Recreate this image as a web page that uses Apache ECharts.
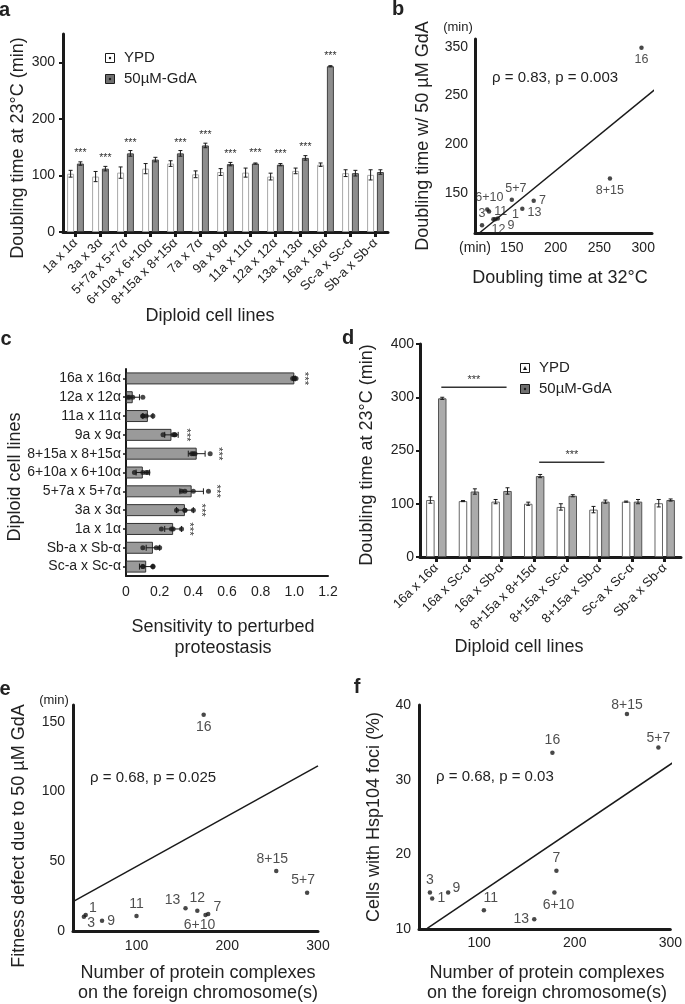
<!DOCTYPE html>
<html>
<head>
<meta charset="utf-8">
<script src="https://cdn.jsdelivr.net/npm/echarts@6.0.0/dist/echarts.min.js"></script>
<style>
html,body{margin:0;padding:0;background:#fff;}
#chart{width:685px;height:1004px;}
</style>
</head>
<body>
<div id="chart"></div>
<script>
// ---------------- Panel a ----------------
const aCategories = ['1a x 1α','3a x 3α','5+7a x 5+7α','6+10a x 6+10α','8+15a x 8+15α','7a x 7α','9a x 9α','11a x 11α','12a x 12α','13a x 13α','16a x 16α','Sc-a x Sc-α','Sb-a x Sb-α'];
const aYPD    = [103, 98, 105, 112, 121, 102, 106, 105, 98, 108, 119, 104, 101];
const aYPDErr = [6, 9, 10, 9, 5, 6, 6, 8, 6, 5, 3, 6, 9];
const aGdA    = [121, 112, 139, 128, 139, 153, 120, 121, 119, 131, 293, 104, 106];
const aGdAErr = [3, 4, 5, 4, 5, 4, 3, 1, 2, 4, 1, 5, 4];
const aSig    = ['***','***','***','','***','***','***','***','***','***','***','',''];
const aYTicks = [0, 100, 200, 300];

// ---------------- Panel b ----------------
const bLabels = ['16','8+15','7','5+7','13','1','9','12','11','6+10','3'];
const bX = [298, 262, 175, 150, 162, 134, 131, 129, 124, 122, 116];
const bY = [299, 165, 142, 143, 134, 124, 123, 123, 131, 133, 117];
const bFit = [[113, 109], [313, 256]];
const bXTicks = [150, 200, 250, 300];
const bYTicks = [150, 200, 250, 300];
const bYTickLabels = ['150', '200', '250', '350'];
const bStat = 'ρ = 0.83, p = 0.003';

// ---------------- Panel c ----------------
const cCategories = ['16a x 16α','12a x 12α','11a x 11α','9a x 9α','8+15a x 8+15α','6+10a x 6+10α','5+7a x 5+7α','3a x 3α','1a x 1α','Sb-a x Sb-α','Sc-a x Sc-α'];
const cValues = [1.0, 0.04, 0.13, 0.27, 0.42, 0.10, 0.39, 0.35, 0.28, 0.16, 0.12];
const cErr    = [0.005, 0.04, 0.03, 0.04, 0.05, 0.04, 0.07, 0.05, 0.05, 0.04, 0.04];
const cDots   = [[0.99,1.0,1.0,1.01],[0.01,0.02,0.04,0.10],[0.10,0.10,0.12,0.16],[0.22,0.28,0.29,0.29],[0.39,0.40,0.41,0.50],[0.05,0.10,0.12,0.13],[0.33,0.35,0.40,0.49],[0.30,0.35,0.35,0.40],[0.21,0.27,0.28,0.33],[0.10,0.18,0.20],[0.10,0.10,0.16,0.16]];
const cSig    = ['***','','','***','***','','***','***','***','',''];
const cXTicks = [0, 0.2, 0.4, 0.6, 0.8, 1.0, 1.2];
const cXTickLabels = ['0','0.2','0.4','0.6','0.8','1.0','1.2'];

// ---------------- Panel d ----------------
const dCategories = ['16a x 16α','16a x Sc-α','16a x Sb-α','8+15a x 8+15α','8+15a x Sc-α','8+15a x Sb-α','Sc-a x Sc-α','Sb-a x Sb-α'];
const dYPD    = [107, 105, 104, 100, 94, 89, 104, 101];
const dYPDErr = [6, 1, 4, 3, 6, 6, 1, 7];
const dGdA    = [298, 123, 124, 152, 115, 104, 104, 107];
const dGdAErr = [2, 5, 6, 3, 2, 3, 4, 2];
const dSigLines = [[0, 2, 319], [3, 5, 178]];
const dYTicks = [0, 100, 200, 300, 400];
const dYTickLabels = ['0', '100', '250', '300', '400'];

// ---------------- Panel e ----------------
const eLabels = ['16','8+15','5+7','13','12','7','6+10','11','9','1','3'];
const eX = [174, 254, 288, 154, 167, 179, 176, 100, 62, 44, 42];
const eY = [155, 43, 27.5, 16.3, 14.6, 12.2, 11.5, 10.8, 7.4, 11.5, 10.3];
const eFit = [[30, 21], [300, 118.3]];
const eXTicks = [100, 200, 300];
const eYTicks = [0, 50, 100, 150];
const eStat = 'ρ = 0.68, p = 0.025';

// ---------------- Panel f ----------------
const fLabels = ['8+15','5+7','16','7','6+10','13','11','9','3','1'];
const fX = [254.6, 287.5, 176.6, 180.8, 178.7, 157.6, 104.9, 67.5, 48.4, 50.8];
const fY = [38.8, 34.3, 33.6, 17.8, 14.9, 11.3, 12.5, 14.9, 14.9, 14.1];
const fFit = [[45.6, 10.1], [307.6, 32.7]];
const fXTicks = [100, 200, 300];
const fYTicks = [10, 20, 30, 40];
const fStat = 'ρ = 0.68, p = 0.03';

// ---------------- styling / layout ----------------
const FONT = '"Liberation Sans", Arial, Helvetica, sans-serif';
const INK = '#1a1a1a';
const TXT = '#222';

const bLabelPlace = [['bottom',0,0],['bottom',0,0],['right',0,0],['top',4,0],['right',0,4],['right',9,-4],['right',7,6],['bottom',5,-2],['right',0,0],['top',2,0],['top',0,0]];
const eLabelPlace = [['bottom',0,0],['top',-4,0],['top',-4,0],['left',0,-8],['top',0,0],['right',0,-7],['bottom',-6,-2],['top',0,0],['right',0,0],['right',-2,-7],['right',-2,7]];
const fLabelPlace = [['top',0,3],['top',0,3],['top',0,0],['top',0,0],['bottom',4,0],['left',0,0],['top',7,0],['right',-1,-4],['top',0,0],['right',0,0]];

function axisLine(w){ return {show:true, onZero:false, lineStyle:{color:INK, width:w}}; }

function vErr(xi, yi, vals, errs, off){
  return {type:'custom', xAxisIndex:xi, yAxisIndex:yi, silent:true, z:4, animation:false,
    data: vals.map((v,i)=>[i, v, errs[i]]),
    encode:{x:0, y:1},
    renderItem(params, api){
      const i = api.value(0), v = api.value(1), e = api.value(2);
      const lo = api.coord([i, v - e]), hi = api.coord([i, v + e]);
      const x = lo[0] + off, c = 2;
      const st = {stroke:INK, lineWidth:1};
      return {type:'group', children:[
        {type:'line', shape:{x1:x, y1:lo[1], x2:x, y2:hi[1]}, style:st},
        {type:'line', shape:{x1:x-c, y1:lo[1], x2:x+c, y2:lo[1]}, style:st},
        {type:'line', shape:{x1:x-c, y1:hi[1], x2:x+c, y2:hi[1]}, style:st}
      ]};
    }};
}

function hErr(xi, yi, vals, errs){
  return {type:'custom', xAxisIndex:xi, yAxisIndex:yi, silent:true, z:4, animation:false,
    data: vals.map((v,i)=>[i, v, errs[i]]),
    encode:{x:1, y:0},
    renderItem(params, api){
      const i = api.value(0), v = api.value(1), e = api.value(2);
      const lo = api.coord([v - e, i]), hi = api.coord([v + e, i]);
      const y = lo[1], c = 3;
      const st = {stroke:INK, lineWidth:1};
      return {type:'group', children:[
        {type:'line', shape:{x1:lo[0], y1:y, x2:hi[0], y2:y}, style:st},
        {type:'line', shape:{x1:lo[0], y1:y-c, x2:lo[0], y2:y+c}, style:st},
        {type:'line', shape:{x1:hi[0], y1:y-c, x2:hi[0], y2:y+c}, style:st}
      ]};
    }};
}

function scatterItems(xs, ys, labels, place){
  return xs.map((x,i)=>({value:[x, ys[i]], name:labels[i],
    label:{position:place[i][0], offset:[place[i][1], place[i][2]]}}));
}

function scatterSeries(xi, yi, xs, ys, labels, place, fs){
  return {type:'scatter', xAxisIndex:xi, yAxisIndex:yi, symbolSize:4.5, silent:true,
    itemStyle:{color:INK}, data:scatterItems(xs, ys, labels, place),
    label:{show:true, formatter:'{b}', fontSize:fs, color:TXT, fontFamily:FONT, distance:3}};
}

function fitSeries(xi, yi, pts){
  return {type:'line', xAxisIndex:xi, yAxisIndex:yi, data:pts, symbol:'none', clip:false, silent:true,
    lineStyle:{color:INK, width:1.5}, z:1};
}

const txt = (text, x, y, o={}) => ({type:'text', x, y, rotation:o.rot||0, silent:true, z:100,
  style:{text, fill:TXT, fontSize:o.size||18, fontWeight:o.bold?'bold':'normal', fontFamily:FONT,
    align:o.align||'center', verticalAlign:'middle'}});
const R90 = Math.PI/2;

const cDotPts = [];
cDots.forEach((arr,i)=>arr.forEach(v=>cDotPts.push([v, i])));

const option = {
  animation:false,
  backgroundColor:'#fff',
  textStyle:{fontFamily:FONT},
  grid:[
    {left:63,  top:34,  width:325, height:198},
    {left:475, top:39,  width:177, height:194},
    {left:126, top:369, width:202, height:207},
    {left:420, top:344, width:261, height:213},
    {left:73,  top:705, width:245, height:226},
    {left:419, top:705, width:253, height:224}
  ],
  xAxis:[
    {gridIndex:0, type:'category', data:aCategories, axisLine:axisLine(3),
     axisTick:{show:true, alignWithLabel:true, length:5, lineStyle:{color:INK, width:3}},
     axisLabel:{interval:0, rotate:45, fontSize:13, color:TXT, margin:9}},
    {gridIndex:1, type:'value', min:108, max:310, axisLine:axisLine(3), axisTick:{show:false}, splitLine:{show:false},
     axisLabel:{customValues:[108].concat(bXTicks), formatter:v=> v===108 ? '(min)' : String(v), fontSize:14, color:TXT, margin:8}},
    {gridIndex:2, type:'value', min:0, max:1.2, axisLine:axisLine(2), axisTick:{show:false}, splitLine:{show:false},
     axisLabel:{customValues:cXTicks, formatter:v=> cXTickLabels[cXTicks.findIndex(t=>Math.abs(t-v)<1e-6)], fontSize:14, color:TXT, margin:9}},
    {gridIndex:3, type:'category', data:dCategories, axisLine:axisLine(3),
     axisTick:{show:true, alignWithLabel:true, length:5, lineStyle:{color:INK, width:3}},
     axisLabel:{interval:0, rotate:45, fontSize:13, color:TXT, margin:9}},
    {gridIndex:4, type:'value', min:30, max:300, axisLine:axisLine(3), axisTick:{show:false}, splitLine:{show:false},
     axisLabel:{customValues:eXTicks, fontSize:14, color:TXT, margin:8}},
    {gridIndex:5, type:'value', min:37, max:300, axisLine:axisLine(3), axisTick:{show:false}, splitLine:{show:false},
     axisLabel:{customValues:fXTicks, fontSize:14, color:TXT, margin:7}}
  ],
  yAxis:[
    {gridIndex:0, type:'value', min:0, max:350, axisLine:axisLine(3), splitLine:{show:false},
     axisTick:{show:true, customValues:aYTicks, length:4, lineStyle:{color:INK, width:2}},
     axisLabel:{customValues:aYTicks, fontSize:14, color:TXT, margin:8}},
    {gridIndex:1, type:'value', min:109, max:308, axisLine:axisLine(3), splitLine:{show:false}, axisTick:{show:false},
     axisLabel:{customValues:bYTicks, formatter:v=> bYTickLabels[bYTicks.indexOf(v)], fontSize:14, color:TXT, margin:7}},
    {gridIndex:2, type:'category', data:cCategories, inverse:true, axisLine:axisLine(2),
     axisTick:{show:true, alignWithLabel:true, length:3, lineStyle:{color:INK, width:1.5}},
     axisLabel:{interval:0, fontSize:14, color:TXT, margin:5}},
    {gridIndex:3, type:'value', min:0, max:400, interval:100, axisLine:axisLine(3), splitLine:{show:false},
     axisTick:{show:true, length:4, lineStyle:{color:INK, width:2}},
     axisLabel:{formatter:v=> dYTickLabels[dYTicks.indexOf(v)], fontSize:14, color:TXT, margin:6}},
    {gridIndex:4, type:'value', min:0, max:162, axisLine:axisLine(3), splitLine:{show:false}, axisTick:{show:false},
     axisLabel:{customValues:eYTicks, fontSize:14, color:TXT, margin:8}},
    {gridIndex:5, type:'value', min:10, max:40, axisLine:axisLine(3), splitLine:{show:false}, axisTick:{show:false},
     axisLabel:{customValues:fYTicks, fontSize:14, color:TXT, margin:8}}
  ],
  series:[
    // a
    {type:'bar', name:'YPD', xAxisIndex:0, yAxisIndex:0, data:aYPD, barWidth:7, barGap:'40%',
     itemStyle:{color:'#ffffff', borderColor:'#a8a8a8', borderWidth:1}},
    {type:'bar', name:'50µM-GdA', xAxisIndex:0, yAxisIndex:0, data:aGdA, barWidth:7, barGap:'40%',
     itemStyle:{color:'#8d8d8d', borderColor:'#404040', borderWidth:1},
     label:{show:true, position:'top', distance:5, formatter:p=>aSig[p.dataIndex], fontSize:10.5, color:'#333'}},
    vErr(0, 0, aYPD, aYPDErr, -4.9),
    vErr(0, 0, aGdA, aGdAErr, 4.9),
    // b
    fitSeries(1, 1, bFit),
    scatterSeries(1, 1, bX, bY, bLabels, bLabelPlace, 12.5),
    // c
    {type:'bar', name:'Sensitivity', xAxisIndex:2, yAxisIndex:2, data:cValues, barWidth:12,
     itemStyle:{color:'#9a9a9a', borderColor:'#333', borderWidth:1}},
    hErr(2, 2, cValues, cErr),
    {type:'scatter', xAxisIndex:2, yAxisIndex:2, data:cDotPts, symbolSize:5, itemStyle:{color:INK}, silent:true, z:5},
    {type:'custom', xAxisIndex:2, yAxisIndex:2, silent:true, z:6,
     data:cValues.map((v,i)=>[i, Math.max(v + cErr[i], ...cDots[i])]),
     encode:{x:1, y:0},
     renderItem(params, api){
       const i = params.dataIndex;
       if(!cSig[i]) return null;
       const p = api.coord([api.value(1), api.value(0)]);
       return {type:'text', x:p[0]+8, y:p[1], rotation:-R90,
         style:{text:cSig[i], fontSize:11.5, fill:'#333', fontFamily:FONT, align:'center', verticalAlign:'middle'}};
     }},
    // d
    {type:'bar', name:'YPD', xAxisIndex:3, yAxisIndex:3, data:dYPD, barWidth:8.5, barGap:'40%',
     itemStyle:{color:'#ffffff', borderColor:'#666', borderWidth:1}},
    {type:'bar', name:'50µM-GdA', xAxisIndex:3, yAxisIndex:3, data:dGdA, barWidth:8.5, barGap:'40%',
     itemStyle:{color:'#ababab', borderColor:'#555', borderWidth:1}},
    vErr(3, 3, dYPD, dYPDErr, -5.95),
    vErr(3, 3, dGdA, dGdAErr, 5.95),
    {type:'custom', xAxisIndex:3, yAxisIndex:3, silent:true, z:6,
     data:dSigLines, encode:{x:[0,1], y:2},
     renderItem(params, api){
       const p1 = api.coord([api.value(0), api.value(2)]);
       const p2 = api.coord([api.value(1), api.value(2)]);
       const x1 = p1[0] + 5, x2 = p2[0] + 5, y = p1[1];
       return {type:'group', children:[
         {type:'line', shape:{x1, y1:y, x2, y2:y}, style:{stroke:'#333', lineWidth:1.5}},
         {type:'text', x:(x1+x2)/2, y:y-7, style:{text:'***', fontSize:11, fill:'#333', fontFamily:FONT, align:'center', verticalAlign:'middle'}}
       ]};
     }},
    // e
    fitSeries(4, 4, eFit),
    scatterSeries(4, 4, eX, eY, eLabels, eLabelPlace, 14),
    // f
    fitSeries(5, 5, fFit),
    scatterSeries(5, 5, fX, fY, fLabels, fLabelPlace, 14)
  ],
  graphic:[
    // panel letters
    txt('a', 4.5, 10, {bold:1, size:20}),
    txt('b', 398, 9, {bold:1, size:20}),
    txt('c', 6, 339, {bold:1, size:20}),
    txt('d', 348, 338, {bold:1, size:20}),
    txt('e', 5, 689, {bold:1, size:20}),
    txt('f', 357, 687, {bold:1, size:20}),
    // axis titles
    txt('Doubling time at 23°C (min)', 18, 148, {rot:R90}),
    txt('Diploid cell lines', 210, 316),
    txt('Doubling time w/ 50 µM GdA', 423, 136, {rot:R90}),
    txt('Doubling time at 32°C', 560, 278),
    txt('(min)', 458, 27, {size:13}),
    txt('Diploid cell lines', 15, 477, {rot:R90}),
    txt('Sensitivity to perturbed', 223, 627),
    txt('proteostasis', 223, 648),
    txt('Doubling time at 23°C (min)', 367, 455, {rot:R90}),
    txt('Diploid cell lines', 519, 647),
    txt('Fitness defect due to 50 µM GdA', 19, 836, {rot:R90}),
    txt('(min)', 54, 700, {size:13}),
    txt('Number of protein complexes', 198, 973),
    txt('on the foreign chromosome(s)', 198, 993),
    txt('Cells with Hsp104 foci (%)', 374, 817, {rot:R90}),
    txt('Number of protein complexes', 547, 973),
    txt('on the foreign chromosome(s)', 547, 993),
    // statistics
    txt(bStat, 492, 78, {size:15, align:'left'}),
    txt(eStat, 90, 778, {size:15, align:'left'}),
    txt(fStat, 436, 777, {size:15, align:'left'}),
    // legend a
    {type:'rect', shape:{x:105.5, y:53.5, width:9, height:9}, style:{fill:'#fff', stroke:INK, lineWidth:1}},
    {type:'circle', shape:{cx:110, cy:58, r:1.2}, style:{fill:INK}},
    txt('YPD', 124, 58, {size:15, align:'left'}),
    {type:'rect', shape:{x:105.5, y:74.5, width:9, height:9}, style:{fill:'#6f6f6f', stroke:INK, lineWidth:1}},
    {type:'circle', shape:{cx:110, cy:79, r:1.2}, style:{fill:INK}},
    txt('50µM-GdA', 124, 79, {size:15, align:'left'}),
    // legend d
    {type:'rect', shape:{x:520.5, y:363.5, width:9, height:9}, style:{fill:'#fff', stroke:INK, lineWidth:1}},
    {type:'polygon', shape:{points:[[525,366],[527,370],[523,370]]}, style:{fill:INK}},
    txt('YPD', 539, 368, {size:15, align:'left'}),
    {type:'rect', shape:{x:520.5, y:384.5, width:9, height:9}, style:{fill:'#6f6f6f', stroke:INK, lineWidth:1}},
    {type:'circle', shape:{cx:525, cy:389, r:1.2}, style:{fill:INK}},
    txt('50µM-GdA', 539, 389, {size:15, align:'left'})
  ]
};

const chart = echarts.init(document.getElementById('chart'), null, {renderer:'canvas', width:685, height:1004});
chart.setOption(option);
</script>
</body>
</html>
